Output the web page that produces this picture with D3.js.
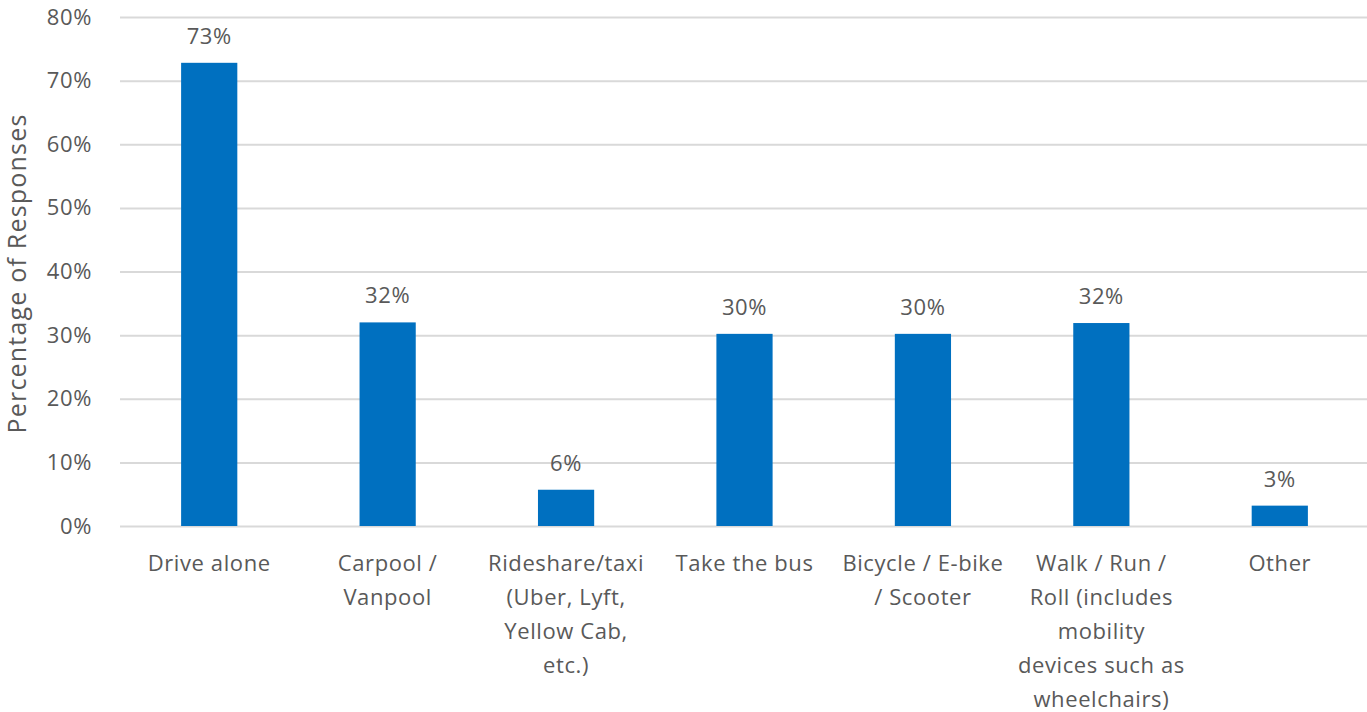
<!DOCTYPE html>
<html>
<head>
<meta charset="utf-8">
<script src="https://cdn.jsdelivr.net/npm/d3@7/dist/d3.min.js"></script>
<style>
  html, body { margin: 0; padding: 0; background: #fff; }
  svg { display: block; }
  text { font-family: "Open Sans", "Liberation Sans", sans-serif; fill: #595959; letter-spacing: 0.6px; }
</style>
</head>
<body>
<svg id="chart" width="1367" height="712"></svg>
<script>
// Travel mode categories (each entry is the wrapped label lines)
const categories = [
  ["Drive alone"],
  ["Carpool /", "Vanpool"],
  ["Rideshare/taxi", "(Uber, Lyft,", "Yellow Cab,", "etc.)"],
  ["Take the bus"],
  ["Bicycle / E-bike", "/ Scooter"],
  ["Walk / Run /", "Roll (includes", "mobility", "devices such as", "wheelchairs)"],
  ["Other"]
];
// Share of responses per mode
const values = [0.728, 0.32, 0.057, 0.302, 0.302, 0.319, 0.032];
// Y-axis tick values
const yTicks = [0, 0.1, 0.2, 0.3, 0.4, 0.5, 0.6, 0.7, 0.8];
const yTitle = "Percentage of Responses";

const svg = d3.select("#chart");
const margin = { left: 120, right: -2, top: 17, bottom: 186 };
const width = 1367 - margin.left - margin.right;
const height = 712 - margin.top - margin.bottom;

const g = svg.append("g").attr("transform", `translate(${margin.left},${margin.top})`);

const x = d3.scaleBand()
  .domain(d3.range(categories.length))
  .range([0, width])
  .paddingInner(0.685)
  .paddingOuter(0.3425);

const y = d3.scaleLinear().domain([0, 0.8]).range([height, 0]);
const pct = d3.format(".0%");

// Gridlines and tick labels
const yAxis = d3.axisLeft(y)
  .tickValues(yTicks)
  .tickFormat(pct)
  .tickSize(-width)
  .tickPadding(28);

const ya = g.append("g").call(yAxis);
ya.select(".domain").remove();
ya.selectAll(".tick line").attr("stroke", "#d9d9d9").attr("stroke-width", 2);
ya.selectAll(".tick text")
  .attr("font-size", 22)
  .attr("fill", "#595959")
  .style("font-family", "'Open Sans', sans-serif");

// Bars
g.selectAll("rect.bar")
  .data(values)
  .join("rect")
  .attr("class", "bar")
  .attr("x", (d, i) => x(i))
  .attr("y", d => y(d))
  .attr("width", x.bandwidth())
  .attr("height", d => y(0) - y(d))
  .attr("fill", "#0070c0");

// Value labels
g.selectAll("text.val")
  .data(values)
  .join("text")
  .attr("class", "val")
  .attr("x", (d, i) => x(i) + x.bandwidth() / 2)
  .attr("y", d => y(d) - 19)
  .attr("text-anchor", "middle")
  .attr("font-size", 22)
  .text(d => pct(d));

// Category labels
const xl = g.selectAll("g.cat")
  .data(categories)
  .join("g")
  .attr("class", "cat")
  .attr("transform", (d, i) => `translate(${x(i) + x.bandwidth() / 2},${height + 45})`);

xl.selectAll("text")
  .data(d => d)
  .join("text")
  .attr("x", 0)
  .attr("y", (d, j) => j * 34)
  .attr("text-anchor", "middle")
  .attr("font-size", 22)
  .text(d => d);

// Y-axis title
svg.append("text")
  .attr("transform", `translate(26,${margin.top + height / 2 + 2}) rotate(-90)`)
  .attr("text-anchor", "middle")
  .attr("font-size", 25)
  .style("letter-spacing", "1.2px")
  .text(yTitle);
</script>
</body>
</html>
